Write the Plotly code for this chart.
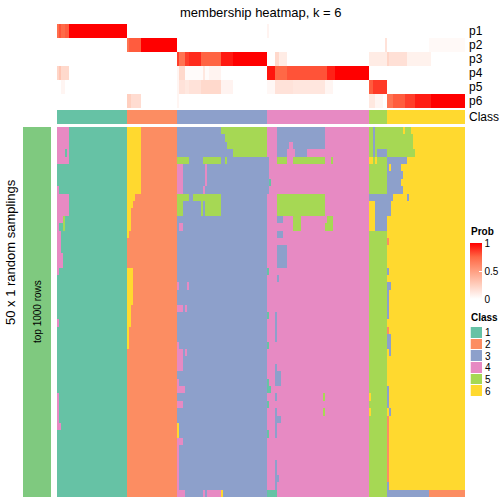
import plotly.graph_objects as go

# ---------------- data ----------------
TITLE = "membership heatmap, k = 6"
ROW_LABEL = "50 x 1 random samplings"
BAR_LABEL = "top 1000 rows"
PROB_LABELS = ["p1", "p2", "p3", "p4", "p5", "p6"]
CLASS_LABELS = ["1", "2", "3", "4", "5", "6"]
CLASS_COLORS = ["#66C2A5", "#FC8D62", "#8DA0CB", "#E78AC3", "#A6D854", "#FFD92F"]
CLASS_SIZES = [35, 25, 45, 51, 9, 39]          # samples per consensus class
N_SAMPLINGS = 50
PROB_TICKS = [0, 0.5, 1]

# membership probabilities, run-length coded: (number of samples, value)
P1_RUNS = [(1, .72), (1, .8), (2, .74), (2, .78), (29, 1), (25, 0), (45, 0), (1, .06), (50, 0), (9, 0), (39, 0)]
P2_RUNS = [(35, 0), (1, .7), (6, .78), (18, 1), (45, 0), (51, 0), (8, 0), (1, .15), (21, 0), (18, .03)]
P3_RUNS = [(35, 0), (25, 0), (1, .85), (3, .7), (2, .85), (6, .9), (10, .76), (6, .94), (17, 1),
           (4, 0), (2, .2), (4, .1), (41, 0), (9, .1), (1, .22), (9, .16), (12, .07), (17, 0)]
P4_RUNS = [(1, .22), (1, .3), (4, .2), (29, 0), (25, 0),
           (1, .05), (3, .2), (9, .02), (1, .12), (2, .02), (6, .06), (23, 0),
           (4, .95), (6, .75), (20, .8), (4, .92), (17, 1), (9, 0), (39, 0)]
P5_RUNS = [(2, 0), (2, .05), (31, 0), (25, 0),
           (1, .05), (3, .15), (2, .12), (6, .15), (10, .2), (6, .06), (17, 0),
           (4, .04), (9, .15), (16, .13), (4, .05), (18, 0), (2, .78), (7, .86), (39, 0)]
P6_RUNS = [(35, 0), (2, .25), (5, .18), (18, 0), (1, .05), (44, 0), (51, 0),
           (3, .12), (4, .05), (2, 0), (3, .7), (6, .78), (5, .85), (8, .93), (17, 1)]
PROB_RUNS = [P1_RUNS, P2_RUNS, P3_RUNS, P4_RUNS, P5_RUNS, P6_RUNS]

# class calls of each random sampling that differ from the consensus class:
# (first row, last row, first sample, last sample, class)
SAMPLING_PATCHES = [
    # consensus class 1
    (0, 4, 0, 5, 4), (3, 3, 4, 4, 1), (8, 8, 0, 0, 4), (9, 11, 0, 5, 4), (12, 12, 0, 2, 4),
    (12, 13, 3, 3, 5), (13, 13, 0, 0, 4), (14, 16, 0, 1, 4), (17, 18, 0, 2, 4), (19, 19, 0, 0, 4),
    (26, 26, 0, 0, 4), (36, 39, 0, 0, 4), (40, 40, 0, 1, 4),
    # consensus class 2
    (0, 8, 35, 41, 6), (9, 9, 35, 38, 6), (10, 10, 35, 37, 6), (11, 13, 35, 36, 6), (14, 14, 35, 35, 6),
    (19, 22, 35, 37, 6), (23, 23, 36, 37, 6), (23, 29, 35, 35, 6), (24, 26, 36, 36, 6),
    # consensus class 3
    (0, 0, 82, 104, 5), (1, 1, 84, 104, 5), (2, 2, 85, 104, 5), (3, 3, 88, 104, 5),
    (4, 4, 60, 65, 5), (4, 4, 73, 81, 5), (4, 4, 84, 84, 5), (5, 8, 60, 62, 4), (5, 7, 74, 74, 4),
    (8, 8, 73, 73, 4), (9, 11, 60, 62, 5), (9, 9, 63, 65, 5), (9, 9, 68, 81, 5), (10, 11, 72, 81, 5),
    (10, 11, 73, 73, 3), (13, 13, 61, 62, 4), (21, 21, 60, 60, 4), (21, 21, 65, 65, 4),
    (24, 24, 60, 62, 4), (24, 24, 64, 64, 4), (29, 32, 60, 60, 4), (30, 32, 61, 62, 4), (30, 30, 64, 64, 4),
    (34, 35, 60, 60, 4), (35, 35, 61, 63, 4), (37, 37, 60, 62, 4), (40, 41, 60, 60, 6), (42, 42, 60, 62, 4),
    (43, 46, 60, 60, 4), (47, 48, 60, 60, 4), (49, 49, 60, 63, 4), (49, 49, 73, 73, 4), (49, 49, 75, 75, 4),
    (49, 49, 76, 81, 4), (49, 49, 82, 82, 6),
    # consensus class 4
    (0, 1, 110, 117, 3), (2, 2, 110, 115, 3), (3, 3, 110, 114, 3), (0, 2, 118, 133, 3), (3, 3, 119, 124, 3),
    (4, 4, 110, 114, 5), (4, 4, 118, 133, 5), (4, 4, 137, 137, 5), (4, 8, 105, 105, 3), (7, 7, 106, 106, 1),
    (9, 11, 110, 133, 5), (12, 12, 110, 112, 3), (12, 13, 118, 121, 5), (12, 12, 135, 137, 5),
    (13, 13, 134, 137, 5), (14, 14, 110, 112, 3), (16, 18, 110, 114, 3), (19, 19, 105, 105, 1),
    (20, 20, 110, 110, 3), (25, 25, 105, 105, 1), (25, 27, 109, 109, 3), (28, 28, 109, 109, 3),
    (29, 29, 105, 105, 1), (32, 34, 109, 109, 3), (33, 34, 110, 111, 3), (34, 35, 105, 105, 1),
    (35, 35, 106, 106, 1), (36, 36, 109, 109, 3), (36, 36, 133, 133, 5), (37, 37, 105, 105, 1),
    (38, 41, 109, 109, 3), (38, 38, 133, 133, 5), (39, 39, 110, 111, 3), (41, 41, 105, 105, 1),
    (45, 48, 109, 109, 3), (47, 47, 110, 110, 3), (49, 49, 105, 109, 1),
    # consensus class 5
    (0, 3, 158, 158, 3), (3, 3, 160, 164, 3), (4, 4, 156, 157, 6), (4, 4, 159, 159, 6),
    (9, 9, 156, 164, 3), (10, 13, 156, 158, 6), (10, 13, 159, 164, 3), (36, 36, 156, 156, 6),
    (38, 38, 156, 156, 6),
    # consensus class 6
    (0, 0, 165, 172, 5), (0, 0, 174, 176, 5), (1, 2, 165, 177, 5), (3, 3, 165, 178, 5),
    (4, 4, 165, 174, 3), (5, 7, 165, 171, 3), (5, 5, 166, 166, 6), (6, 6, 172, 172, 3),
    (8, 8, 165, 172, 3), (9, 9, 165, 167, 3), (9, 9, 175, 175, 3), (10, 11, 165, 166, 3),
    (15, 15, 165, 165, 2), (19, 19, 165, 165, 3), (21, 21, 165, 166, 3), (22, 25, 165, 165, 3),
    (27, 27, 165, 165, 2), (28, 29, 165, 166, 3), (30, 30, 166, 166, 3), (35, 37, 165, 165, 3),
    (38, 38, 166, 166, 3), (39, 47, 165, 165, 2), (48, 48, 165, 165, 3),
    (49, 49, 165, 185, 3), (49, 49, 186, 203, 2),
]

# ---------------- build matrices ----------------
classes = []
for k, n in enumerate(CLASS_SIZES):
    classes += [k + 1] * n
N = len(classes)

prob = []
for runs in PROB_RUNS:
    row = []
    for n, v in runs:
        row += [v] * n
    prob.append(row)

samp = [list(classes) for _ in range(N_SAMPLINGS)]
for r0, r1, c0, c1, k in SAMPLING_PATCHES:
    for r in range(r0, r1 + 1):
        for c in range(c0, c1 + 1):
            samp[r][c] = k

disc = []
for i, c in enumerate(CLASS_COLORS):
    disc += [[i / 6, c], [(i + 1) / 6, c]]
prob_scale = [[0, "#FFFFFF"], [0.25, "#FFCFBF"], [0.5, "#FF9E81"], [0.75, "#FF6846"], [1, "#FF0000"]]

W = H = 504
def px(x): return x / W
def py(y): return 1 - y / H

FONT = "Liberation Sans, Arial, Helvetica, sans-serif"

fig = go.Figure()
fig.add_trace(go.Heatmap(
    z=prob, xaxis="x", yaxis="y", colorscale=prob_scale, zmin=0, zmax=1,
    hoverinfo="skip",
    colorbar=dict(x=px(470), xanchor="left", xpad=0, y=py(243), yanchor="top", ypad=0,
                  len=56, lenmode="pixels", thickness=12, thicknessmode="pixels",
                  outlinewidth=0, tickvals=PROB_TICKS, ticktext=[str(t) for t in PROB_TICKS],
                  ticks="inside", ticklen=3, tickcolor="white",
                  tickfont=dict(size=10, color="black", family=FONT))))
fig.add_trace(go.Heatmap(z=[classes], xaxis="x", yaxis="y2", colorscale=disc, zmin=0.5, zmax=6.5,
                         showscale=False, hoverinfo="skip"))
fig.add_trace(go.Heatmap(z=samp, xaxis="x", yaxis="y3", colorscale=disc, zmin=0.5, zmax=6.5,
                         showscale=False, hoverinfo="skip"))
fig.add_trace(go.Heatmap(z=[[1]], x0=0, dx=1, y0=(N_SAMPLINGS - 1) / 2, dy=N_SAMPLINGS,
                         xaxis="x2", yaxis="y3", colorscale=[[0, "#7FC97F"], [1, "#7FC97F"]],
                         showscale=False, hoverinfo="skip"))
fig.add_trace(go.Heatmap(z=[[i + 1] for i in range(6)], xaxis="x3", yaxis="y4", colorscale=disc,
                         zmin=0.5, zmax=6.5, ygap=1, showscale=False, hoverinfo="skip"))

hid = dict(visible=False, showgrid=False, zeroline=False)
fig.update_layout(
    width=W, height=H, margin=dict(l=0, r=0, t=0, b=0),
    paper_bgcolor="white", plot_bgcolor="white",
    font=dict(family=FONT, color="black"),
    xaxis=dict(domain=[px(57), px(465)], range=[-0.5, N - 0.5], anchor="y3", **hid),
    yaxis=dict(domain=[py(108), py(24)], range=[5.5, -0.5], anchor="x", side="right",
               tickvals=list(range(6)), ticktext=PROB_LABELS, ticks="", showgrid=False,
               zeroline=False, showline=False, tickfont=dict(size=12), ticklabelstandoff=3),
    yaxis2=dict(domain=[py(124), py(110)], range=[0.5, -0.5], anchor="x", side="right",
                tickvals=[0], ticktext=["Class"], ticks="", showgrid=False, zeroline=False,
                showline=False, tickfont=dict(size=12), ticklabelstandoff=3),
    yaxis3=dict(domain=[py(497), py(127)], range=[N_SAMPLINGS - 0.5, -0.5], anchor="x", **hid),
    xaxis2=dict(domain=[px(23), px(51)], range=[-0.5, 0.5], anchor="y3", **hid),
    xaxis3=dict(domain=[px(470.5), px(482)], range=[-0.5, 0.5], anchor="y4", **hid),
    yaxis4=dict(domain=[py(397), py(327)], range=[5.5, -0.5], anchor="x3", side="right",
                tickvals=list(range(6)), ticktext=CLASS_LABELS, ticks="", showgrid=False,
                zeroline=False, showline=False, tickfont=dict(size=10), ticklabelstandoff=2),
    annotations=[
        dict(text=TITLE, x=px(261), y=py(12), xref="paper", yref="paper", showarrow=False,
             xanchor="center", yanchor="middle", font=dict(size=13)),
        dict(text=ROW_LABEL, x=px(10), y=py(252), xref="paper", yref="paper", showarrow=False,
             textangle=-90, xanchor="center", yanchor="middle", font=dict(size=13)),
        dict(text=BAR_LABEL, x=0, y=(N_SAMPLINGS - 1) / 2, xref="x2", yref="y3", showarrow=False,
             textangle=-90, xanchor="center", yanchor="middle", font=dict(size=10)),
        dict(text="<b>Prob</b>", x=px(469), y=py(232), xref="paper", yref="paper", showarrow=False,
             xanchor="left", yanchor="middle", font=dict(size=10)),
        dict(text="<b>Class</b>", x=px(469), y=py(317), xref="paper", yref="paper", showarrow=False,
             xanchor="left", yanchor="middle", font=dict(size=10)),
    ],
)

fig.write_html("out.html", config={"displayModeBar": False},
               post_script="document.body.style.margin='0px';document.body.style.overflow='hidden';")
